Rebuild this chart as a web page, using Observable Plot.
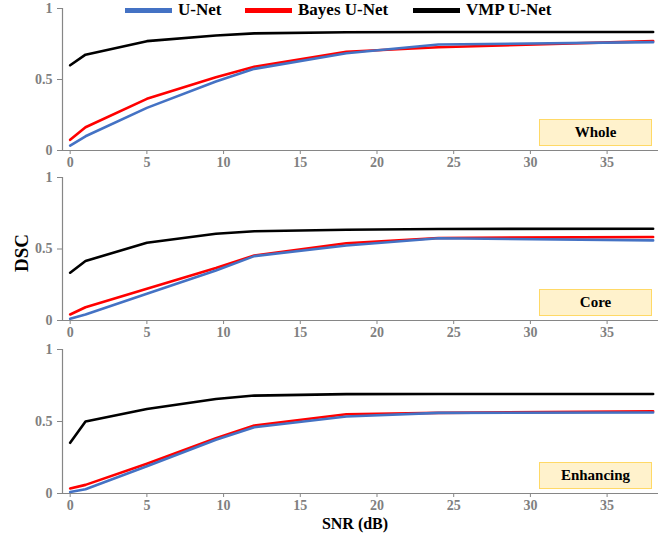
<!DOCTYPE html>
<html>
<head>
<meta charset="utf-8">
<script src="https://cdn.jsdelivr.net/npm/d3@7"></script>
<script src="https://cdn.jsdelivr.net/npm/@observablehq/plot@0.6"></script>
<style>
  body { margin: 0; background: #fff; }
  #wrap { position: relative; width: 670px; height: 535px; font-family: "Liberation Serif", "Times New Roman", Tinos, "DejaVu Serif", serif; }
  .panel { position: absolute; left: 0; }
  .legend { position: absolute; top: 0; left: 0; width: 670px; height: 22px; font-weight: bold; font-size: 17px; }
  .lg { position: absolute; top: 0; display: flex; align-items: center; height: 20px; }
  .sw { width: 47px; height: 5px; margin-right: 6px; }
  .box { position: absolute; left: 539px; width: 111px; height: 25px; background: #FFF2CC; border: 1.5px solid #FFD966; display: flex; align-items: center; justify-content: center; font-weight: bold; font-size: 15px; color: #000; }
  .ylab { position: absolute; left: 22px; top: 253px; transform: translate(-50%, -50%) rotate(-90deg); font-weight: bold; font-size: 19px; }
  .xlab { position: absolute; left: 355px; top: 524px; transform: translate(-50%, -50%); font-weight: bold; font-size: 16px; white-space: nowrap; line-height: 16px; }
</style>
</head>
<body>
<div id="wrap"></div>
<script>
const snr = [0, 1, 5, 9.5, 12, 18, 24, 38];
const seriesNames = ["U-Net", "Bayes U-Net", "VMP U-Net"];
const seriesColors = ["#4472C4", "#FF0000", "#000000"];
const panelNames = ["Whole", "Core", "Enhancing"];
const xTicks = [0, 5, 10, 15, 20, 25, 30, 35];
const yTicks = [0, 0.5, 1];

const wholeUNet  = [0.035, 0.100, 0.300, 0.486, 0.575, 0.685, 0.746, 0.763];
const wholeBayes = [0.075, 0.164, 0.364, 0.516, 0.590, 0.695, 0.727, 0.770];
const wholeVMP   = [0.600, 0.675, 0.770, 0.810, 0.825, 0.833, 0.835, 0.835];

const coreUNet  = [0.012, 0.042, 0.187, 0.350, 0.450, 0.525, 0.575, 0.560];
const coreBayes = [0.042, 0.093, 0.222, 0.367, 0.455, 0.540, 0.577, 0.584];
const coreVMP   = [0.334, 0.416, 0.544, 0.607, 0.624, 0.635, 0.640, 0.642];

const enhUNet  = [0.011, 0.030, 0.189, 0.373, 0.460, 0.535, 0.560, 0.563];
const enhBayes = [0.035, 0.060, 0.207, 0.384, 0.472, 0.550, 0.560, 0.571];
const enhVMP   = [0.352, 0.500, 0.587, 0.656, 0.680, 0.690, 0.691, 0.691];

const panelData = [
  [wholeUNet, wholeBayes, wholeVMP],
  [coreUNet, coreBayes, coreVMP],
  [enhUNet, enhBayes, enhVMP]
];

const layout = [
  {top: 0,   height: 170, mt: 8, mb: 20, box: 119},
  {top: 170, height: 170, mt: 7, mb: 20, box: 289},
  {top: 340, height: 175, mt: 9, mb: 22, box: 462}
];

const wrap = document.getElementById("wrap");
const axisGray = "#868686";
const serif = "'Liberation Serif', 'Times New Roman', Tinos, 'DejaVu Serif', serif";

panelData.forEach((series, pi) => {
  const L = layout[pi];
  const rows = [];
  [2, 1, 0].forEach(si => {
    series[si].forEach((v, i) => rows.push({snr: snr[i], dsc: v, s: seriesNames[si]}));
  });
  const chart = Plot.plot({
    width: 670,
    height: L.height,
    marginTop: L.mt,
    marginBottom: L.mb,
    marginLeft: 62,
    marginRight: 12,
    style: {fontFamily: serif, fontWeight: "bold", fontSize: "14px", color: "#7f7f7f", background: "transparent", overflow: "visible"},
    x: {domain: [-0.5, 38.35]},
    y: {domain: [0, 1]},
    color: {domain: seriesNames, range: seriesColors},
    marks: [
      Plot.axisX({ticks: xTicks, tickSize: 4, tickPadding: 3, label: null, stroke: axisGray, fontFamily: serif, tickFormat: d => String(d)}),
      Plot.axisY({ticks: yTicks, tickSize: 5, tickPadding: 5, label: null, stroke: axisGray, fontFamily: serif, tickFormat: d => String(d)}),
      Plot.ruleY([0], {stroke: axisGray, strokeWidth: 1.2}),
      Plot.ruleX([-0.5], {stroke: axisGray, strokeWidth: 1.2}),
      Plot.line(rows, {x: "snr", y: "dsc", z: "s", stroke: "s", strokeWidth: 2.6})
    ]
  });
  const div = document.createElement("div");
  div.className = "panel";
  div.style.top = L.top + "px";
  div.appendChild(chart);
  wrap.appendChild(div);

  const box = document.createElement("div");
  box.className = "box";
  box.style.top = L.box + "px";
  box.textContent = panelNames[pi];
  wrap.appendChild(box);
});

const legend = document.createElement("div");
legend.className = "legend";
const lgPos = [125, 245, 413];
seriesNames.forEach((n, i) => {
  const item = document.createElement("div");
  item.className = "lg";
  item.style.left = lgPos[i] + "px";
  const sw = document.createElement("div");
  sw.className = "sw";
  sw.style.background = seriesColors[i];
  const t = document.createElement("span");
  t.textContent = n;
  item.appendChild(sw);
  item.appendChild(t);
  legend.appendChild(item);
});
wrap.appendChild(legend);

const yl = document.createElement("div");
yl.className = "ylab";
yl.textContent = "DSC";
wrap.appendChild(yl);

const xl = document.createElement("div");
xl.className = "xlab";
xl.textContent = "SNR (dB)";
wrap.appendChild(xl);
</script>
</body>
</html>
